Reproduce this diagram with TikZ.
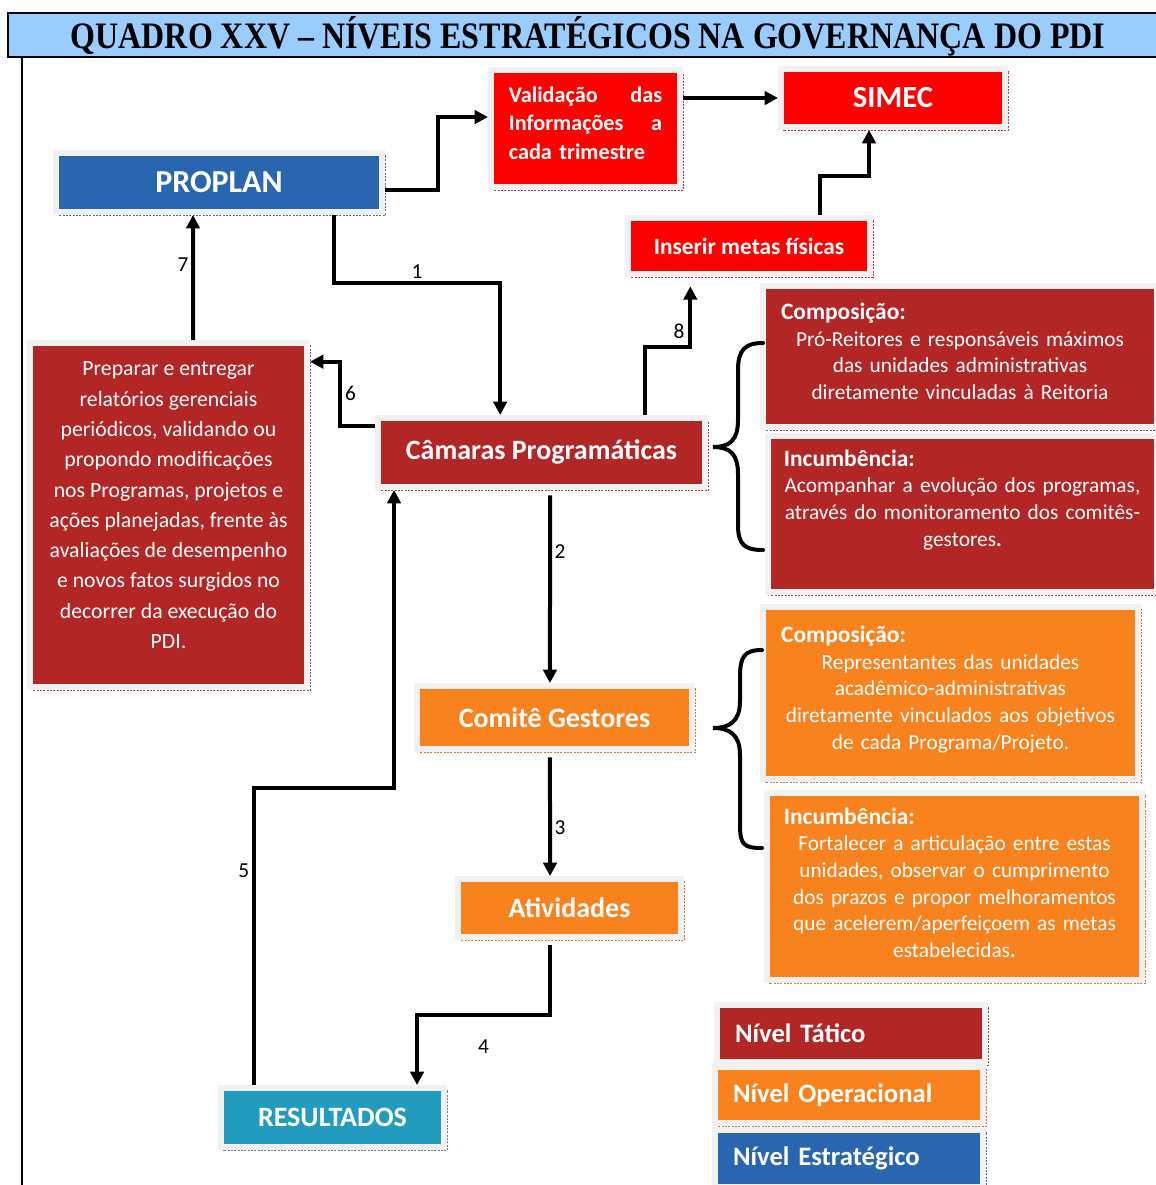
\documentclass[tikz,border=0pt]{standalone}
\usepackage{fontspec}
\usepackage{graphicx}
\setmainfont{Carlito}
\newfontfamily\titlefont{Liberation Serif}
\usetikzlibrary{arrows.meta}
\newcommand\fsz[2]{\fontsize{#1}{#2}\selectfont}
\newcommand\hd[1]{{\bfseries\fsz{17.6pt}{20pt}#1}\hfill\mbox{}}
\definecolor{titleblue}{RGB}{153,204,255}
\definecolor{estrblue}{RGB}{42,102,176}
\definecolor{taticored}{RGB}{178,38,37}
\definecolor{brightred}{RGB}{255,0,0}
\definecolor{operorange}{RGB}{247,130,30}
\definecolor{resteal}{RGB}{35,155,190}
\definecolor{framegray}{RGB}{241,241,241}
\begin{document}
\begin{tikzpicture}[x=0.75pt,y=-0.75pt,
  box/.style={fill=#1,draw=framegray,line width=4.5pt,text=white,align=center,inner sep=2pt,
    preaction={draw=#1!55!gray,line width=1.5pt,densely dotted,transform canvas={shift={(2.6pt,-2.6pt)}}}},
  desc/.style={font=\fsz{16pt}{20pt}},
  lab/.style={font=\fsz{16pt}{18pt},inner sep=2pt},
  arr/.style={line width=3pt,-{Triangle[length=10pt,width=10pt]}},
  brace/.style={line width=3pt,line cap=round}]
\useasboundingbox (0,0) rectangle (1156,1185);
\draw[fill=titleblue,line width=2pt] (8,13) rectangle (1164,57);
\node (titulo) at (588,36) {\resizebox{776pt}{\height}{\titlefont\bfseries\fsz{28pt}{30pt}QUADRO XXV – NÍVEIS ESTRATÉGICOS NA GOVERNANÇA DO PDI}};
\draw[line width=2pt] (22,57) -- (22,1185);

\node[box=estrblue,minimum width=244.5pt,minimum height=44.25pt,font=\bfseries\fsz{24pt}{28pt}] (proplan) at (219,182.5) {PROPLAN};
\node[box=brightred,minimum width=141.75pt,minimum height=87.75pt,text width=115pt,align=left,font=\bfseries\fsz{16.7pt}{21.4pt}] (valid) at (585.5,128.5) {Validação\hfill das\\Informações\hfill a\\cada trimestre\\[-13pt]\mbox{}};
\node[box=brightred,minimum width=168pt,minimum height=43.5pt,font=\bfseries\fsz{23pt}{26pt}] (simec) at (893,98) {SIMEC};
\node[box=brightred,minimum width=181.5pt,minimum height=42pt,font=\bfseries\fsz{17.5pt}{20pt}] (metas) at (749,246) {Inserir metas físicas};
\node[box=taticored,minimum width=245.25pt,minimum height=51.75pt,font=\bfseries\fsz{21pt}{24pt}] (camaras) at (541.5,452.5) {Câmaras Programáticas};
\node[box=taticored,minimum width=207.75pt,minimum height=258pt,font=\fsz{16.3pt}{22.7pt}] (relat) at (168.5,515) {Preparar e entregar\\relatórios gerenciais\\periódicos, validando ou\\propondo modificações\\nos Programas, projetos e\\ações planejadas, frente às\\avaliações de desempenho\\e novos fatos surgidos no\\decorrer da execução do\\PDI.\\[-8pt]\mbox{}};

\node[box=taticored,desc,minimum width=295.5pt,minimum height=105.75pt,text width=268.5pt] (compt) at (960,356.5) {\hd{Composição:}\\Pró-Reitores e responsáveis máximos\\das unidades administrativas\\diretamente vinculadas à Reitoria\\[-12pt]\mbox{}};
\node[box=taticored,desc,minimum width=291.75pt,minimum height=117pt,text width=268pt] (inct) at (962.5,514) {\hd{Incumbência:}\\Acompanhar a evolução dos programas,\\através do monitoramento dos comitês-\\gestores\textbf{.}\\[4pt]\mbox{}};
\node[box=operorange,desc,minimum width=281.25pt,minimum height=129pt,text width=254pt] (compo) at (950.5,693) {\hd{Composição:}\\Representantes das unidades\\acadêmico-administrativas\\diretamente vinculados aos objetivos\\de cada Programa/Projeto.\\[-12pt]\mbox{}};
\node[box=operorange,desc,minimum width=281.25pt,minimum height=140.25pt,text width=256pt] (inco) at (954.5,886.5) {\hd{Incumbência:}\\Fortalecer a articulação entre estas\\unidades, observar o cumprimento\\dos prazos e propor melhoramentos\\que acelerem/aperfeiçoem as metas\\estabelecidas\textbf{.}\\[-14pt]\mbox{}};

\node[box=operorange,minimum width=206.25pt,minimum height=47.25pt,font=\bfseries\fsz{21pt}{24pt}] (comite) at (554.5,717.5) {Comitê Gestores};
\node[box=operorange,minimum width=167.25pt,minimum height=43.5pt,font=\bfseries\fsz{21pt}{24pt}] (ativ) at (569.5,908) {Atividades};
\node[box=resteal,minimum width=167.25pt,minimum height=44.25pt,font=\bfseries\fsz{21pt}{24pt}] (result) at (332.5,1117.5) {RESULTADOS};

\node[box=taticored,minimum width=201pt,minimum height=42.75pt,text width=174pt,align=left,font=\bfseries\fsz{20pt}{24pt}] (ntat) at (851,1033.5) {Nível Tático};
\node[box=operorange,minimum width=201pt,minimum height=42pt,text width=174pt,align=left,font=\bfseries\fsz{20pt}{24pt}] (nop) at (849,1095) {Nível Operacional};
\node[box=estrblue,minimum width=201pt,minimum height=43pt,text width=174pt,align=left,font=\bfseries\fsz{20pt}{24pt}] (nest) at (849,1158.5) {Nível Estratégico};

\draw[arr] ([yshift=-5.6pt]proplan.east) -- ++(40pt,0pt) |- ([yshift=8.6pt]valid.west);
\draw[arr] (valid.east |- simec.west) -- (simec.west);
\draw[arr] ([xshift=53pt]metas.north) -- ++(0pt,29pt) -| ([xshift=-18pt]simec.south);
\draw[arr] ([xshift=86pt]proplan.south) -- ++(0pt,-51pt) -| node[lab,pos=0.25,above]{1} ([xshift=-31pt]camaras.north);
\draw[arr] ([xshift=77.6pt]camaras.north) -- ++(0pt,51pt) -| node[lab,pos=0.63,left=1pt]{8} ([xshift=-44pt,yshift=-7pt]metas.south);
\draw[arr] ([yshift=20pt]camaras.west) -- ++(-26pt,0pt) |- node[lab,pos=0.25,right]{6} ([yshift=115pt]relat.east);
\draw[arr] ([xshift=18.4pt]relat.north) -- node[lab,pos=0.6,left]{7} ([xshift=-19.5pt]proplan.south);
\draw[arr,shorten <=4pt] ([xshift=6.4pt]camaras.south) -- node[lab,pos=0.32,right]{2} ([xshift=-3.4pt]comite.north);
\draw[arr,shorten <=4pt] ([xshift=-3.4pt]comite.south) -- node[lab,pos=0.61,right]{3} ([xshift=-14.6pt]ativ.north);
\draw[arr,shorten <=4pt] ([xshift=-14.6pt]ativ.south) -- ++(0pt,-56pt) -| node[lab,pos=0.25,below=15pt]{4} ([xshift=63.4pt]result.north);
\draw[arr] ([xshift=-58.9pt]result.north) -- node[lab,pos=0.72,left]{5} ++(0pt,222.75pt) -| ([xshift=-110.6pt]camaras.south);

\draw[brace] (763,343) .. controls (745,343) and (738,350) .. (738,370) -- (738,420) .. controls (738,440) and (730,447) .. (713,447) .. controls (730,447) and (738,454) .. (738,474) -- (738,525) .. controls (738,545) and (745,550) .. (763,550);
\draw[brace] (762,650) .. controls (744,650) and (740,657) .. (740,677) -- (740,701) .. controls (740,721) and (730,728) .. (713,728) .. controls (730,728) and (740,735) .. (740,755) -- (740,825) .. controls (740,845) and (744,848) .. (762,848);
\end{tikzpicture}
\end{document}
